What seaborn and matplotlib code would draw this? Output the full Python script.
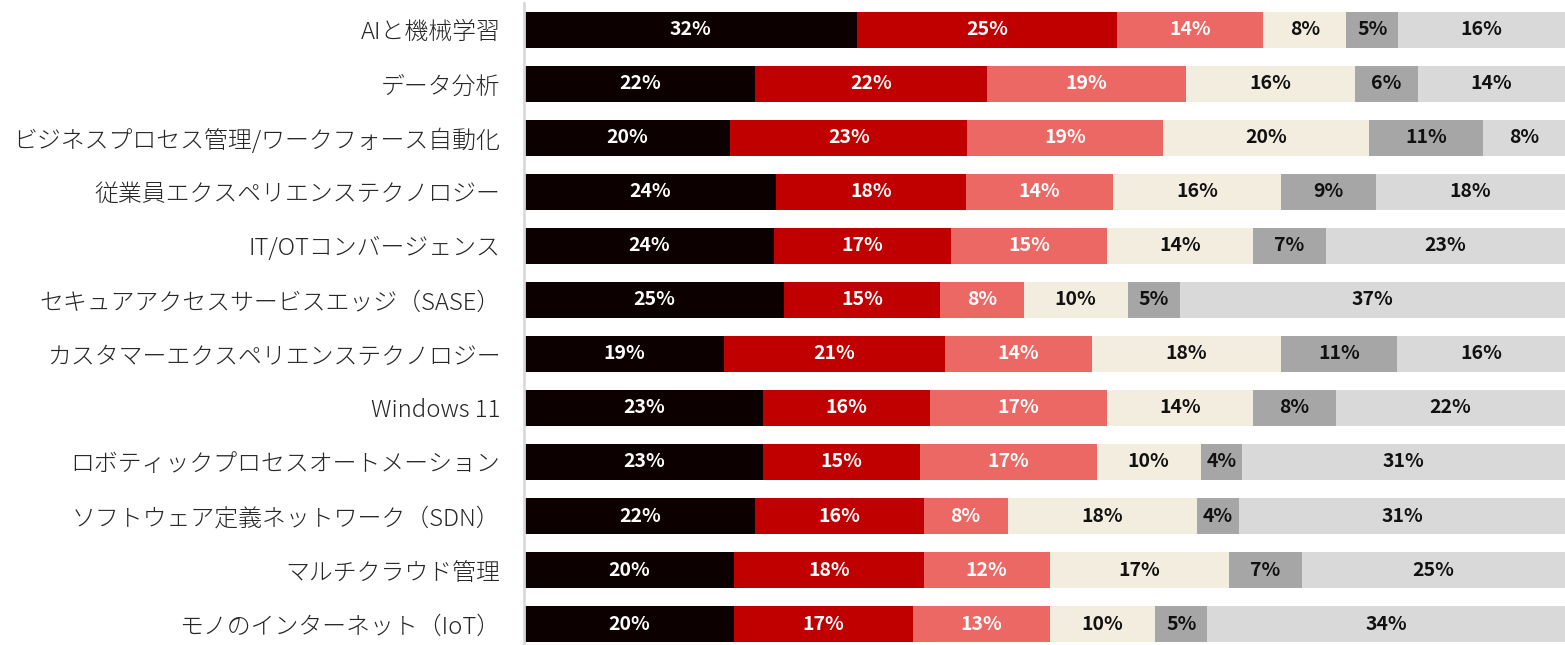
import numpy as np
import pandas as pd
import matplotlib
matplotlib.use("Agg")
import matplotlib.pyplot as plt
import seaborn as sns

categories = [
    "AIと機械学習",
    "データ分析",
    "ビジネスプロセス管理/ワークフォース自動化",
    "従業員エクスペリエンステクノロジー",
    "IT/OTコンバージェンス",
    "セキュアアクセスサービスエッジ（SASE）",
    "カスタマーエクスペリエンステクノロジー",
    "Windows 11",
    "ロボティックプロセスオートメーション",
    "ソフトウェア定義ネットワーク（SDN）",
    "マルチクラウド管理",
    "モノのインターネット（IoT）",
]
seg1 = [32, 22, 20, 24, 24, 25, 19, 23, 23, 22, 20, 20]
seg2 = [25, 22, 23, 18, 17, 15, 21, 16, 15, 16, 18, 17]
seg3 = [14, 19, 19, 14, 15, 8, 14, 17, 17, 8, 12, 13]
seg4 = [8, 16, 20, 16, 14, 10, 18, 14, 10, 18, 17, 10]
seg5 = [5, 6, 11, 9, 7, 5, 11, 8, 4, 4, 7, 5]
seg6 = [16, 14, 8, 18, 23, 37, 16, 22, 31, 31, 25, 34]

colors = ["#0d0000", "#c00000", "#eb6864", "#f3ede0", "#a6a6a6", "#d9d9d9"]
text_colors = ["white", "white", "white", "#111111", "#111111", "#111111"]

sns.set_theme(style="white")
plt.rcParams["font.family"] = ["Noto Sans CJK JP", "DejaVu Sans"]

segs = np.array([seg1, seg2, seg3, seg4, seg5, seg6], dtype=float)
totals = segs.sum(axis=0)
norm = segs / totals * 100.0
cum = np.cumsum(norm, axis=0)

fig = plt.figure(figsize=(15.65, 6.45), dpi=100)
ax = fig.add_axes([524 / 1565, -6 / 645, 1 - 524 / 1565, 648 / 645])

df = pd.DataFrame({"category": categories})
for k in range(5, -1, -1):
    df["v"] = cum[k]
    sns.barplot(data=df, x="v", y="category", orient="h", color=colors[k],
                saturation=1, width=0.667, ax=ax, linewidth=0)

for i in range(len(categories)):
    left = 0.0
    for k in range(6):
        w = norm[k, i]
        ax.text(left + w / 2, i, f"{int(segs[k, i])}%", ha="center", va="center",
                color=text_colors[k], fontsize=14, fontweight="bold")
        left += w

ax.set_xlim(0, 100)
ax.set_ylim(11.5, -0.5)
ax.set_xlabel("")
ax.set_ylabel("")
ax.set_xticks([])
ax.tick_params(axis="y", length=0, pad=17, labelcolor="#262626")
for lbl in ax.get_yticklabels():
    lbl.set_fontsize(17.2)
    lbl.set_fontweight(300)
for s in ["top", "right", "bottom"]:
    ax.spines[s].set_visible(False)
ax.spines["left"].set_color("#d9d9d9")
ax.spines["left"].set_linewidth(2)

fig.savefig("out.png", dpi=100)
